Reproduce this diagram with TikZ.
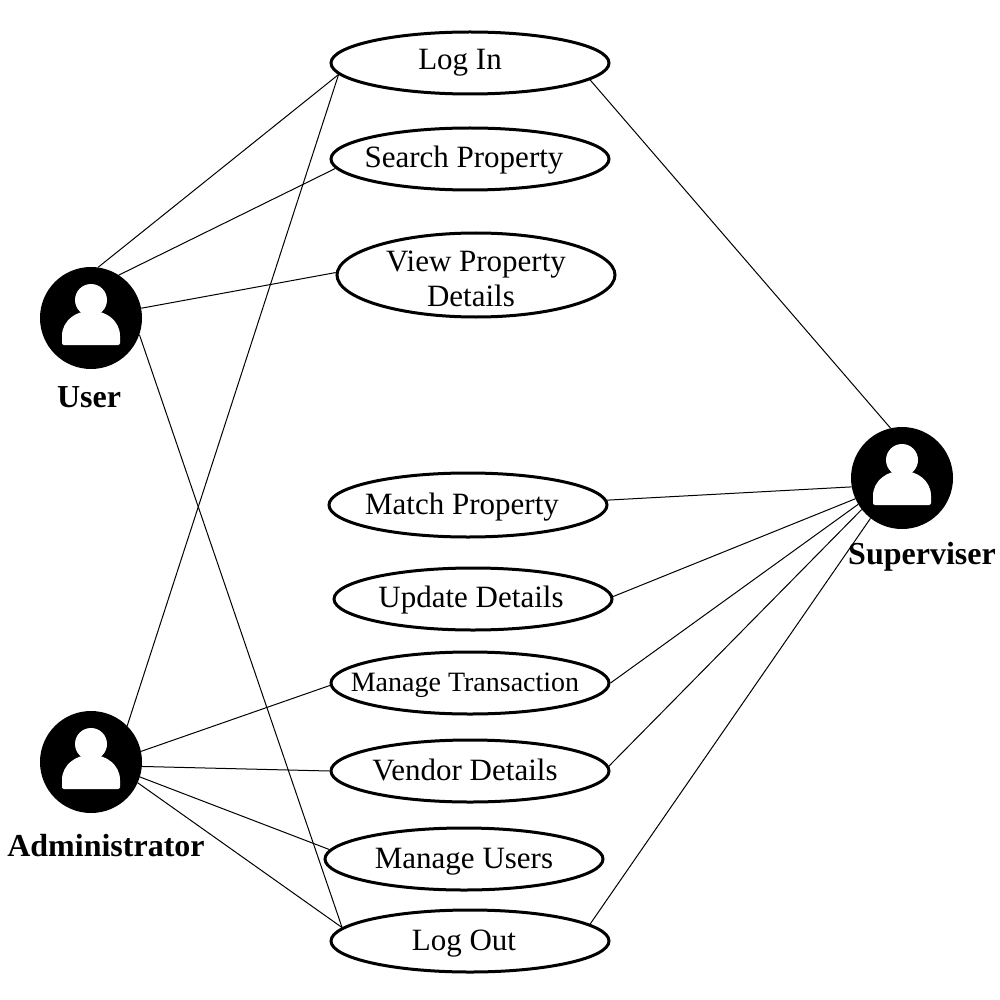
\documentclass[tikz,border=0pt]{standalone}
\usepackage{fontspec}
\setmainfont{Liberation Serif}
\usetikzlibrary{shapes.geometric}
\tikzset{
  usecase/.style={ellipse,draw=black,line width=3pt,fill=white,minimum width=278pt,minimum height=62pt,inner sep=0pt},
  casetext/.style={inner sep=0pt,anchor=base,font=\fontsize{31}{36}\selectfont},
  actor/.style={circle,fill=black,minimum size=102pt,inner sep=0pt},
  actorlabel/.style={anchor=base,font=\fontsize{32}{36}\selectfont\bfseries,inner sep=0pt},
  link/.style={draw=black,line width=1pt},
  person/.pic={
    \fill[white] (0,-18) circle (16);
    \fill[white,rounded corners=2pt] (-29,27) -- (29,27) -- (29,20) .. controls (29,2) and (14,-7) .. (0,-7) .. controls (-14,-7) and (-29,2) .. (-29,20) -- cycle;
  }
}
\begin{document}
\begin{tikzpicture}[x=1pt,y=-1pt]
\useasboundingbox (0,0) rectangle (1000,1000);
\fill[white] (0,0) rectangle (1000,1000);

\node[usecase] (login) at (470,63) {};
\node[usecase] (search) at (470,159) {};
\node[usecase,minimum height=84pt] (view) at (476,275) {};
\node[usecase,minimum height=64pt] (match) at (468,505) {};
\node[usecase] (update) at (473,599) {};
\node[usecase] (trans) at (470,683) {};
\node[usecase] (vendor) at (470,771) {};
\node[usecase] (users) at (464,859) {};
\node[usecase] (logout) at (470,941) {};

\node[casetext] (t1) at (460,70) {Log In};
\node[casetext] (t2) at (464,168) {Search Property};
\node[casetext] (t3) at (476,271) {View Property};
\node[casetext] (t3b) at (471,306) {Details};
\node[casetext] (t4) at (462,514) {Match Property};
\node[casetext] (t5) at (471,607) {Update Details};
\node[casetext,font=\fontsize{28}{36}\selectfont] (t6) at (465,691) {Manage Transaction};
\node[casetext] (t7) at (465,780) {Vendor Details};
\node[casetext] (t8) at (464,868) {Manage Users};
\node[casetext] (t9) at (464,950) {Log Out};

\node[actor] (user) at (91,318) {};
\node[actor] (admin) at (91,762) {};
\node[actor] (sup) at (902,478) {};
\pic at (91,318) {person};
\pic at (91,762) {person};
\pic at (902,478) {person};

\node[actorlabel] (luser) at (89,407) {User};
\node[actorlabel] (ladmin) at (106,856) {Administrator};
\node[actorlabel] (lsup) at (922,564) {Superviser};

\draw[link] (user.82) -- (login.185.3);
\draw[link] (user.57) -- (search.184.2);
\draw[link] (user.11) -- (view.179.2);
\draw[link] (user.-19.5) -- (logout.174.8);

\draw[link] (admin.45) -- (login.185.3);
\draw[link] (admin.12.4) -- (trans.181.2);
\draw[link] (admin.-5.7) -- (vendor.180);
\draw[link] (admin.-17.4) -- (users.176.5);
\draw[link] (admin.-24) -- (logout.174.8);

\draw[link] (sup.103.5) -- (login.-8.2);
\draw[link] (sup.190) -- (match.2);
\draw[link] (sup.204) -- (update.1.6);
\draw[link] (sup.211.5) -- (trans.0);
\draw[link] (sup.218) -- (vendor.2);
\draw[link] (sup.232) -- (logout.8.1);
\end{tikzpicture}
\end{document}
